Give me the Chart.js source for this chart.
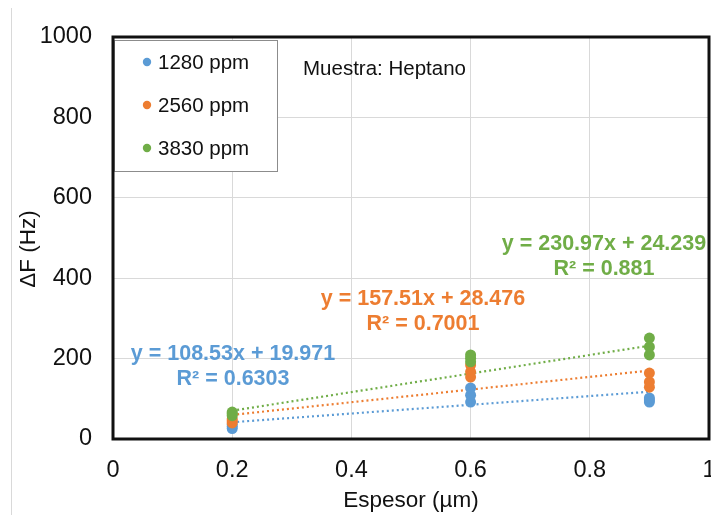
<!DOCTYPE html>
<html>
<head>
<meta charset="utf-8">
<script src="https://cdn.jsdelivr.net/npm/chart.js@4.4.1/dist/chart.umd.min.js"></script>
<style>
  html, body { margin: 0; padding: 0; background: #ffffff; }
  canvas { display: block; }
</style>
</head>
<body>
<canvas id="chart" width="711" height="515"></canvas>
<script>
// Espesor de la película (µm) y variación de frecuencia (Hz) por concentración
const seriesNames = ['1280 ppm', '2560 ppm', '3830 ppm'];
const thickness1280 = [0.2, 0.2, 0.2, 0.6, 0.6, 0.6, 0.9, 0.9, 0.9];
const deltaF1280    = [26, 31, 36, 92, 109, 127, 92, 97, 102];
const thickness2560 = [0.2, 0.2, 0.2, 0.6, 0.6, 0.6, 0.9, 0.9, 0.9];
const deltaF2560    = [40, 45, 50, 154, 167, 184, 129, 142, 164];
const thickness3830 = [0.2, 0.2, 0.2, 0.6, 0.6, 0.6, 0.9, 0.9, 0.9];
const deltaF3830    = [58, 63, 67, 192, 201, 209, 209, 229, 251];

// Ajustes lineales (y = m·x + b) y coeficientes de determinación
const slopes     = [108.53, 157.51, 230.97];
const intercepts = [19.971, 28.476, 24.239];
const rSquared   = ['0.6303', '0.7001', '0.881'];
const fitRange   = [0.2, 0.9];

const xTickLabels = ['0', '0.2', '0.4', '0.6', '0.8', '1'];
const yTickLabels = ['0', '200', '400', '600', '800', '1000'];
const sampleLabel = 'Muestra: Heptano';

const colors = ['#5B9BD5', '#ED7D31', '#70AD47'];
const FONT = "'Liberation Sans', Arial, Helvetica, sans-serif";

const pointSets = [
  [thickness1280, deltaF1280],
  [thickness2560, deltaF2560],
  [thickness3830, deltaF3830]
];

const datasets = [];
pointSets.forEach(([xs, ys], i) => {
  datasets.push({
    label: seriesNames[i],
    data: xs.map((x, k) => ({ x: x, y: ys[k] })),
    backgroundColor: colors[i],
    borderColor: colors[i],
    borderWidth: 0,
    pointRadius: 5.5,
    pointHoverRadius: 5.5,
    showLine: false,
    order: 3 - i
  });
});
slopes.forEach((m, i) => {
  datasets.push({
    label: 'fit ' + seriesNames[i],
    data: fitRange.map(x => ({ x: x, y: m * x + intercepts[i] })),
    borderColor: colors[i],
    borderWidth: 2.2,
    borderDash: [2, 3],
    pointRadius: 0,
    showLine: true,
    fill: false,
    order: 10
  });
});

// Marco, leyenda, textos de ajuste y títulos de ejes
const decorations = {
  id: 'decorations',
  afterDraw(chart) {
    const ctx = chart.ctx;
    const a = chart.chartArea;
    ctx.save();

    // borde exterior del gráfico
    ctx.strokeStyle = '#d9d9d9';
    ctx.lineWidth = 1;
    ctx.beginPath();
    ctx.moveTo(11.5, 8);
    ctx.lineTo(11.5, 515);
    ctx.stroke();

    // leyenda
    const lx = a.left + 1, ly = a.top + 3, lw = 163, lh = 131;
    ctx.fillStyle = '#ffffff';
    ctx.fillRect(lx, ly, lw, lh);
    ctx.strokeStyle = '#8c8c8c';
    ctx.lineWidth = 1;
    ctx.strokeRect(lx + 0.5, ly + 0.5, lw, lh);
    ctx.font = '20.5px ' + FONT;
    ctx.textBaseline = 'middle';
    ctx.textAlign = 'left';
    seriesNames.forEach((name, i) => {
      const cy = ly + 22 + i * 43;
      ctx.fillStyle = colors[i];
      ctx.beginPath();
      ctx.arc(lx + 33, cy, 4.2, 0, Math.PI * 2);
      ctx.fill();
      ctx.fillStyle = '#111111';
      ctx.fillText(name, lx + 44, cy + 1);
    });

    // marco del área de trazado
    ctx.strokeStyle = '#111111';
    ctx.lineWidth = 3;
    ctx.strokeRect(a.left, a.top, a.right - a.left, a.bottom - a.top);

    // muestra
    ctx.fillStyle = '#111111';
    ctx.font = '20.5px ' + FONT;
    ctx.textAlign = 'left';
    ctx.fillText(sampleLabel, 303, 69);

    // ecuaciones de ajuste
    const labelPos = [[233, 354], [423, 299], [604, 244]];
    ctx.font = 'bold 21.5px ' + FONT;
    ctx.textAlign = 'center';
    slopes.forEach((m, i) => {
      ctx.fillStyle = colors[i];
      const [cx, cy] = labelPos[i];
      ctx.fillText('y = ' + m.toFixed(2) + 'x + ' + intercepts[i].toFixed(3), cx, cy);
      ctx.fillText('R² = ' + rSquared[i], cx, cy + 25);
    });

    // títulos de ejes
    ctx.fillStyle = '#111111';
    ctx.font = '22.5px ' + FONT;
    ctx.textAlign = 'center';
    ctx.fillText('Espesor (µm)', (a.left + a.right) / 2, 501);
    ctx.translate(29, 249);
    ctx.rotate(-Math.PI / 2);
    ctx.fillText('ΔF (Hz)', 0, 0);

    ctx.restore();
  }
};

new Chart(document.getElementById('chart'), {
  type: 'scatter',
  data: { datasets: datasets },
  options: {
    responsive: false,
    animation: false,
    events: [],
    layout: { autoPadding: false, padding: { left: 0, right: 2, top: 37, bottom: 0 } },
    plugins: {
      legend: { display: false },
      tooltip: { enabled: false },
      title: { display: false }
    },
    scales: {
      x: {
        type: 'linear',
        min: 0,
        max: 1,
        afterFit(scale) {
          scale.height = 76;
          scale.paddingLeft = 0;
          scale.paddingRight = 0;
        },
        border: { display: false },
        grid: { color: '#d9d9d9', lineWidth: 1, drawTicks: false },
        ticks: {
          stepSize: 0.2,
          padding: 17,
          color: '#111111',
          font: { family: FONT, size: 23.5 },
          maxRotation: 0,
          callback: (v, i) => xTickLabels[i]
        }
      },
      y: {
        type: 'linear',
        min: 0,
        max: 1000,
        afterFit(scale) {
          scale.width = 113;
          scale.paddingTop = 0;
          scale.paddingBottom = 0;
        },
        border: { display: false },
        grid: { color: '#d9d9d9', lineWidth: 1, drawTicks: false },
        ticks: {
          stepSize: 200,
          padding: 21,
          color: '#111111',
          font: { family: FONT, size: 23.5 },
          callback: (v, i) => yTickLabels[i]
        }
      }
    }
  },
  plugins: [decorations]
});
</script>
</body>
</html>
